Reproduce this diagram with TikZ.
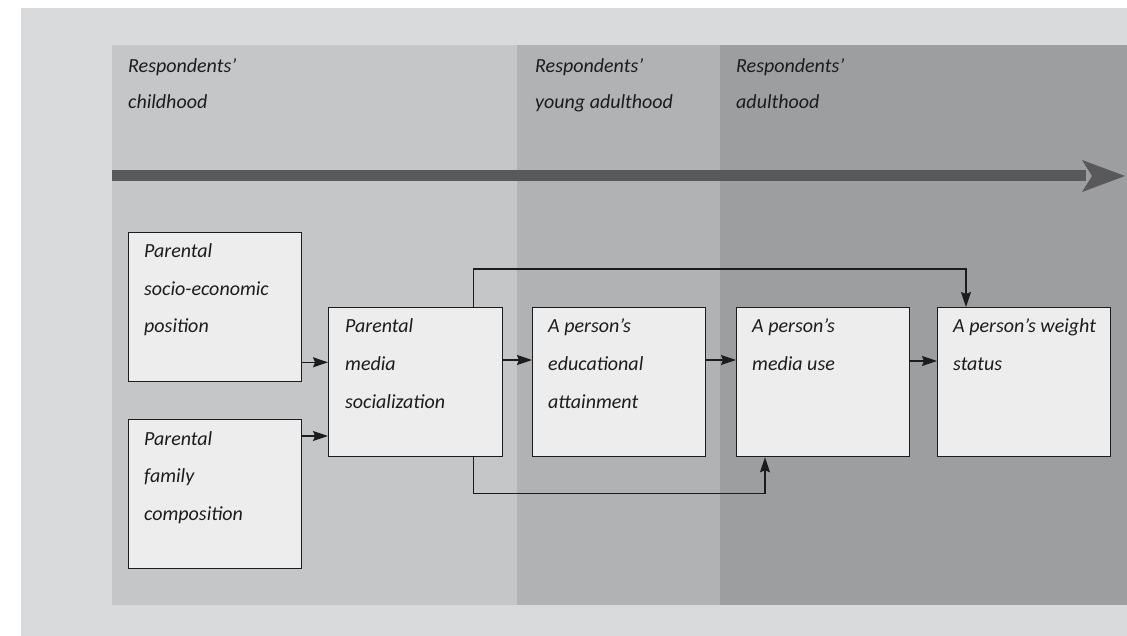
\documentclass[tikz,border=0pt]{standalone}
\usepackage{fontspec}
\setmainfont{Carlito}
\usetikzlibrary{arrows.meta}
\definecolor{outerbg}{HTML}{D9DADC}
\definecolor{childbg}{HTML}{C5C6C8}
\definecolor{youngbg}{HTML}{B1B2B4}
\definecolor{adultbg}{HTML}{9D9EA0}
\definecolor{timeline}{HTML}{59595B}
\definecolor{boxfill}{HTML}{ECEDEC}
\definecolor{ink}{HTML}{1C1C1C}
\newcommand{\boxtext}[1]{\parbox[t]{165pt}{\raggedright\fontsize{20}{37.5}\selectfont\itshape #1}}
\newcommand{\headtext}[1]{\parbox[t]{180pt}{\raggedright\fontsize{20}{36}\selectfont\itshape #1}}
\tikzset{
  stagebox/.style={draw=ink, line width=1.3pt, fill=boxfill, rectangle, anchor=north west,
    minimum width=173pt, minimum height=149pt, inner sep=0pt},
  txt/.style={anchor=base west, inner sep=0pt, text=ink},
  conn/.style={draw=ink, line width=1.3pt, -{Stealth[length=15pt, width=10pt, inset=2pt]}}
}
\begin{document}
\begin{tikzpicture}[x=1pt, y=-1pt]
\useasboundingbox (0,0) rectangle (1127,636);
\fill[white] (0,0) rectangle (1127,636);
\fill[outerbg] (21,8) rectangle (1127,636);
\fill[childbg] (112,45) rectangle (517,605);
\fill[youngbg] (517,45) rectangle (720,605);
\fill[adultbg] (720,45) rectangle (1127,605);
% headings
\node[txt] (h1) at (128,73) {\headtext{Respondents’\\childhood}};
\node[txt] (h2) at (535,73) {\headtext{Respondents’\\young adulthood}};
\node[txt] (h3) at (736,73) {\headtext{Respondents’\\adulthood}};
% timeline
\coordinate (ts) at (112,176);
\coordinate (te) at (1125,176);
\coordinate (tn) at (1086,176);
\draw[timeline, line width=11pt] (ts) -- (tn);
\fill[timeline] (te) -- ++(-43,-16) -- ++(10,16) -- ++(-10,16) -- cycle;
% boxes
\node[stagebox] (b1) at (128,232) {};
\node[stagebox] (b2) at (128,419) {};
\node[stagebox, minimum width=174pt] (b3) at (328,307) {};
\node[stagebox] (b4) at (532,307) {};
\node[stagebox] (b5) at (736,307) {};
\node[stagebox] (b6) at (937,307) {};
% texts
\node[txt] (t1) at ([xshift=16pt,yshift=-26pt]b1.north west) {\boxtext{Parental\\socio-economic\\position}};
\node[txt] (t2) at ([xshift=16pt,yshift=-26pt]b2.north west) {\boxtext{Parental\\family\\composition}};
\node[txt] (t3) at ([xshift=17pt,yshift=-26pt]b3.north west) {\boxtext{Parental\\media\\socialization}};
\node[txt] (t4) at ([xshift=16pt,yshift=-26pt]b4.north west) {\boxtext{A person’s\\educational\\attainment}};
\node[txt] (t5) at ([xshift=16pt,yshift=-26pt]b5.north west) {\boxtext{A person’s\\media use}};
\node[txt] (t6) at ([xshift=16pt,yshift=-26pt]b6.north west) {\boxtext{A person’s weight\\status}};
% connectors
\draw[conn] ([yshift=20pt]b1.south east) coordinate (p1) -- (p1 -| b3.west);
\draw[conn] ([yshift=-17pt]b2.north east) coordinate (p2) -- (p2 -| b3.west);
\draw[conn] ([yshift=-53pt]b3.north east) coordinate (p3) -- (p3 -| b4.west);
\draw[conn] ([yshift=-53pt]b4.north east) coordinate (p4) -- (p4 -| b5.west);
\draw[conn] ([yshift=-54pt]b5.north east) coordinate (p5) -- (p5 -| b6.west);
\draw[conn] ([xshift=-30pt]b3.north east) -- ++(0,-38) -| ([xshift=29pt]b6.north west);
\draw[conn] ([xshift=-30pt]b3.south east) -- ++(0,36) -| ([xshift=29pt]b5.south west);
\end{tikzpicture}
\end{document}
